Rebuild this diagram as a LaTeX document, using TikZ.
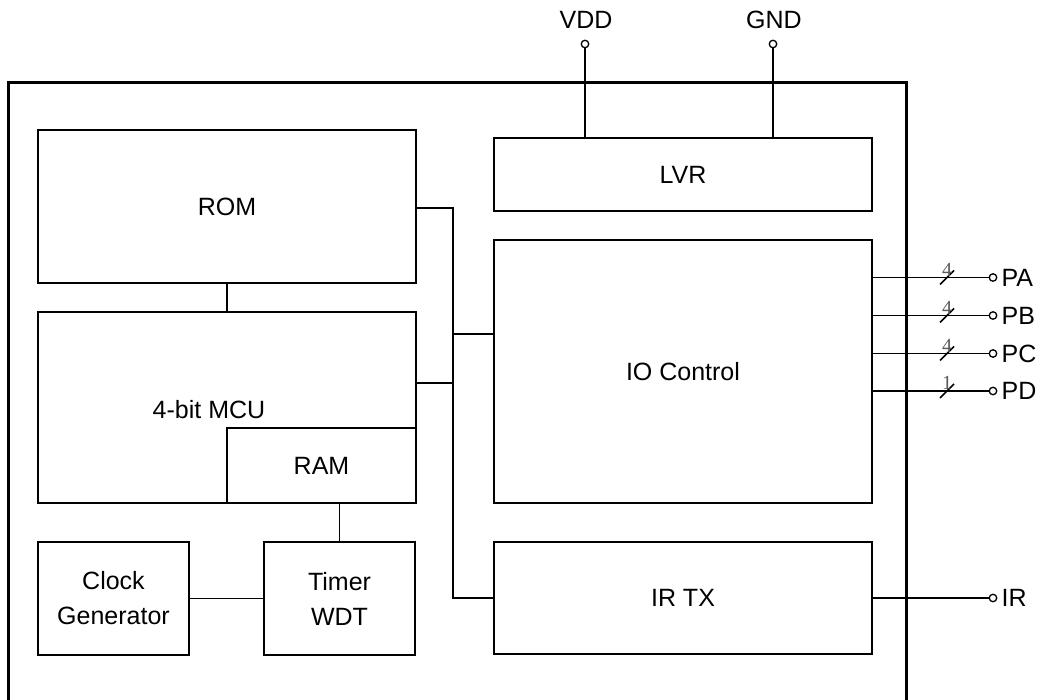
\documentclass[tikz,border=0pt]{standalone}
\usepackage{fontspec}
\setmainfont{Liberation Sans}
\newfontfamily\numfont{Liberation Serif}
\begin{document}
\begin{tikzpicture}[x=1pt,y=-1pt,
  box/.style={draw, line width=2pt, inner sep=0pt, align=center,
    font=\fontsize{25}{35}\selectfont},
  conn/.style={line width=1.6pt},
  pinc/.style={circle, draw, line width=1.3pt, minimum size=7.5pt, inner sep=0pt, fill=white},
  pinlab/.style={anchor=west, inner sep=0pt, font=\fontsize{25}{30}\selectfont},
  toplab/.style={inner sep=0pt, font=\fontsize{25}{30}\selectfont},
  busnum/.style={inner sep=0pt, text=black!65, font=\numfont\fontsize{20}{20}\selectfont}]
\useasboundingbox (0,0) rectangle (1039,700);
% outer chip outline (bottom edge out of frame)
\draw[line width=3pt] (8,700) -- (8,83) -- (906,83) -- (906,700);
% blocks
\node[box, minimum width=378pt, minimum height=153pt] (rom) at (227,206.5) {ROM};
\node[box, minimum width=378pt, minimum height=191pt] (mcu) at (227,407.5) {};
\node[inner sep=0pt, font=\fontsize{25}{30}\selectfont] (mcut) at (209,410) {4-bit MCU};
\node[box, minimum width=189pt, minimum height=75pt] (ram) at (321.5,465.5) {RAM};
\node[box, minimum width=151pt, minimum height=113pt] (clk) at (113.5,598.5) {Clock\\Generator};
\node[box, minimum width=151pt, minimum height=113pt] (tmr) at (339.5,598.5) {Timer\\WDT};
\node[box, minimum width=378pt, minimum height=73pt] (lvr) at (683,174.5) {LVR};
\node[box, minimum width=378pt, minimum height=263pt] (io) at (683,371.5) {IO Control};
\node[box, minimum width=378pt, minimum height=112pt] (irtx) at (683,598) {IR TX};
% internal connections
\draw[conn] (rom.south) -- (mcu.north);
\draw[conn] (tmr.north) -- (tmr.north |- ram.south);
\draw[conn] (clk.east) -- (tmr.west);
\coordinate (bt) at (453,208);
\coordinate (bm) at (453,383);
\coordinate (bi) at (453,334);
\draw[conn] (rom.east |- bt) -- (bt) -- (bt |- irtx.west) -- (irtx.west);
\draw[conn] (mcu.east |- bm) -- (bm);
\draw[conn] (bi) -- (bi -| io.west);
% power pins
\node[pinc] (vdd) at (585,44) {};
\node[pinc] (gnd) at (773,44) {};
\node[toplab] (vddl) at (586,20) {VDD};
\node[toplab] (gndl) at (774,20) {GND};
\draw[conn] (vdd) -- (vdd |- lvr.north);
\draw[conn] (gnd) -- (gnd |- lvr.north);
% IO pins
\foreach \n/\y/\w in {PA/277.5/4, PB/315.5/4, PC/353.5/4, PD/391/1}{
  \node[pinc] (p\n) at (993,\y) {};
  \node[pinlab] (l\n) at ([xshift=4pt]p\n.east) {\n};
  \draw[conn] (io.east |- p\n) -- (p\n);
  \coordinate (s\n) at (947,\y);
  \draw[conn] ([shift={(-7,7)}]s\n) -- ([shift={(7,-7)}]s\n);
  \node[busnum] (n\n) at ([shift={(0,-8)}]s\n) {\w};
}
\node[pinc] (pir) at (993,598) {};
\node[pinlab] (lir) at ([xshift=4pt]pir.east) {IR};
\draw[conn] (irtx.east |- pir) -- (pir);
\end{tikzpicture}
\end{document}
